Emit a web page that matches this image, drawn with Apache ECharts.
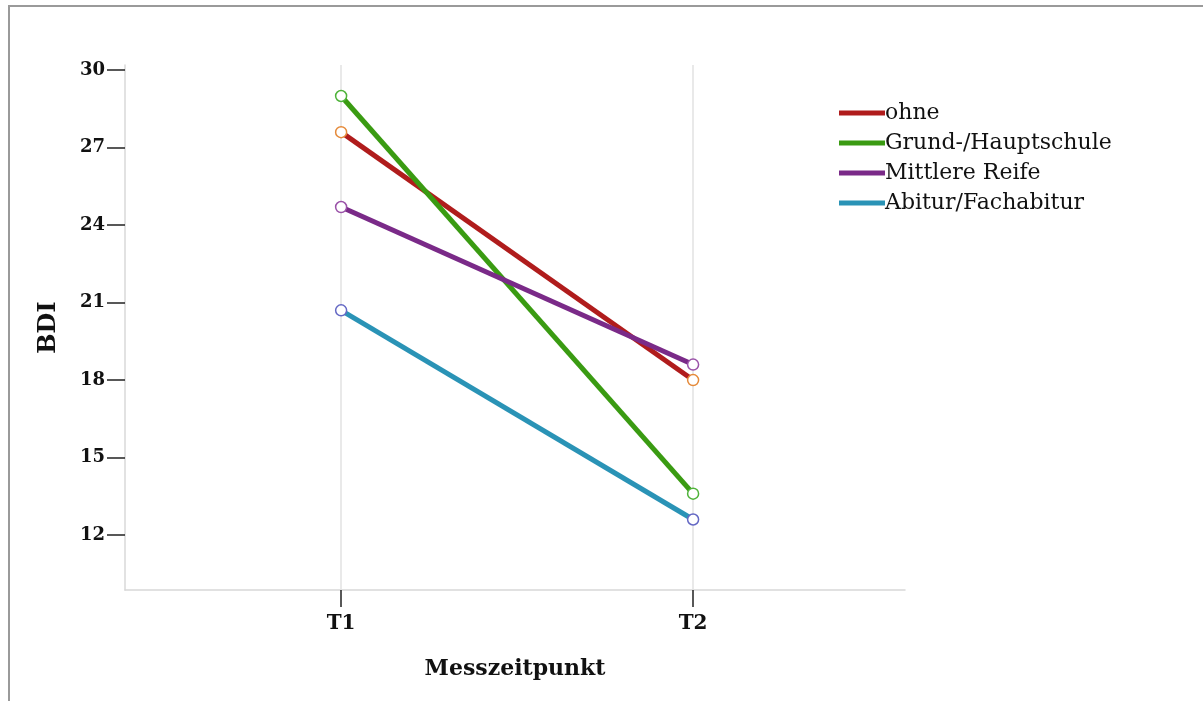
<!DOCTYPE html>
<html>
<head>
<meta charset="utf-8">
<script src="https://cdn.jsdelivr.net/npm/echarts@6/dist/echarts.min.js"></script>
<style>
html,body{margin:0;padding:0;background:#fff;}
#frame{position:absolute;left:8px;top:5px;right:-5px;bottom:-5px;border-top:2px solid #9a9a9a;border-left:2px solid #9a9a9a;}
#chart{position:absolute;left:0;top:0;width:1203px;height:701px;}
</style>
</head>
<body>
<div id="frame"></div>
<div id="chart"></div>
<script>
const categories = ['T1', 'T2'];
const seriesNames = ['ohne', 'Grund-/Hauptschule', 'Mittlere Reife', 'Abitur/Fachabitur'];
const ohne = [27.6, 18.0];
const grund = [29.0, 13.6];
const mittlere = [24.7, 18.6];
const abitur = [20.7, 12.6];
const yTicks = [12, 15, 18, 21, 24, 27, 30];

const lineColors = ['#b01c1c', '#3a9b12', '#7a2a88', '#2a93b6'];
const markerColors = ['#e58a3a', '#4fb33a', '#9a52a8', '#6468c4'];
const values = [ohne, grund, mittlere, abitur];
const serif = '"DejaVu Serif", serif';

const series = seriesNames.map((name, i) => ({
  name: name,
  type: 'line',
  data: values[i].map((v, j) => [j + 1, v]),
  symbol: 'circle',
  symbolSize: 11,
  lineStyle: { color: lineColors[i], width: 5 },
  itemStyle: { color: '#ffffff', borderColor: markerColors[i], borderWidth: 1.5 },
  z: 3 + i,
  markLine: i === 0 ? {
    silent: true, symbol: 'none', label: { show: false },
    lineStyle: { color: '#e2e2e2', width: 1.5, type: 'solid' },
    data: categories.map((c, j) => ({ xAxis: j + 1 })),
    z: 1
  } : undefined
}));

const chart = echarts.init(document.getElementById('chart'));
chart.setOption({
  animation: false,
  backgroundColor: 'transparent',
  grid: { left: 125, top: 65, right: 298, bottom: 111 },
  legend: {
    orient: 'vertical', left: 834, top: 97, itemGap: 8,
    itemWidth: 46, itemHeight: 5, icon: 'rect',
    textStyle: { fontFamily: serif, fontSize: 22, color: '#111', padding: [0, 0, 0, -5] },
    data: seriesNames.map((n, i) => ({ name: n, icon: 'rect', itemStyle: { color: lineColors[i], borderWidth: 0 } }))
  },
  xAxis: {
    type: 'value', min: 0.386, max: 2.602,
    name: 'Messzeitpunkt', nameLocation: 'middle', nameGap: 68,
    nameTextStyle: { fontFamily: serif, fontWeight: 'bold', fontSize: 22, color: '#111' },
    axisLine: { show: true, lineStyle: { color: '#d8d8d8', width: 1.5 } },
    axisTick: { show: true, length: 17, lineStyle: { color: '#222', width: 1.5 }, customValues: categories.map((c, j) => j + 1) },
    axisLabel: { fontFamily: serif, fontWeight: 'bold', fontSize: 20, color: '#111', margin: 24,
      customValues: categories.map((c, j) => j + 1),
      formatter: v => categories[Math.round(v) - 1] || '' },
    splitLine: { show: false }
  },
  yAxis: {
    type: 'value', min: 9.87, max: 30.2,
    name: 'BDI', nameLocation: 'middle', nameGap: 64, nameRotate: 90,
    nameTextStyle: { fontFamily: serif, fontWeight: 'bold', fontSize: 24, color: '#111' },
    axisLine: { show: true, lineStyle: { color: '#d8d8d8', width: 1.5 } },
    axisTick: { show: true, length: 18, lineStyle: { color: '#222', width: 1.5 }, customValues: yTicks },
    axisLabel: { fontFamily: serif, fontWeight: 'bold', fontSize: 18, color: '#111', margin: 20, customValues: yTicks },
    splitLine: { show: false }
  },
  series: series
});
</script>
</body>
</html>
